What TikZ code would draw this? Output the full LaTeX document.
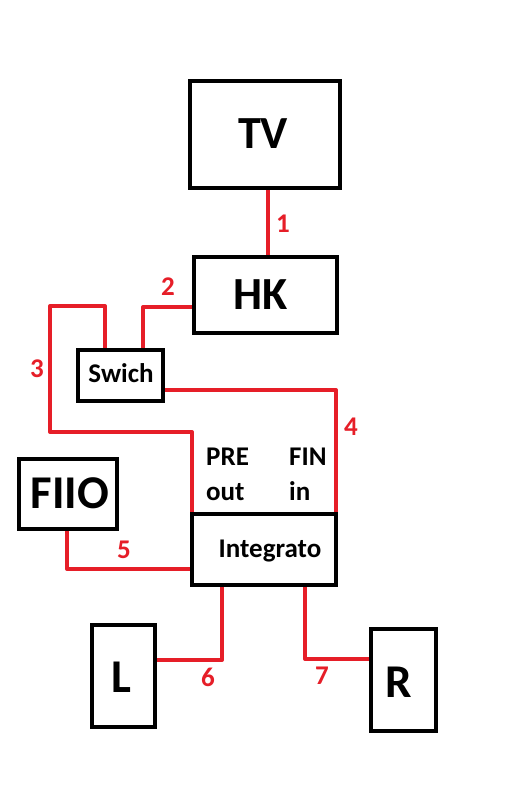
\documentclass[tikz,border=0pt]{standalone}
\usepackage{fontspec}
\setmainfont{Carlito}
\usetikzlibrary{backgrounds}
\definecolor{wirered}{RGB}{230,30,40}
\tikzset{
  box/.style={draw=black, line width=4pt, rectangle, inner sep=0pt, fill=none},
  wire/.style={draw=wirered, line width=4pt, line join=round, line cap=round},
  bigtxt/.style={inner sep=0pt, anchor=base, font=\fontsize{46}{50}\selectfont\bfseries},
  smalltxt/.style={inner sep=0pt, anchor=base, font=\fontsize{27}{32}\selectfont\bfseries},
  numtxt/.style={inner sep=0pt, anchor=base, text=wirered, font=\fontsize{27}{32}\selectfont\bfseries}
}
\begin{document}
\begin{tikzpicture}[x=1pt,y=-1pt]
\useasboundingbox (0,0) rectangle (529,800);
% boxes
\node[box, minimum width=150pt, minimum height=107pt] (tv) at (265,134.5) {};
\node[box, minimum width=143pt, minimum height=76pt] (hk) at (265.5,295) {};
\node[box, minimum width=85pt, minimum height=51pt] (sw) at (120.5,375.5) {};
\node[box, minimum width=98pt, minimum height=70pt] (fiio) at (68,494) {};
\node[box, minimum width=144pt, minimum height=71pt] (integ) at (264,549.5) {};
\node[box, minimum width=63pt, minimum height=102pt] (ell) at (123.5,676) {};
\node[box, minimum width=65pt, minimum height=102pt] (arr) at (403.5,680) {};
% box texts
\node[bigtxt] (tvt) at (263,148) {TV};
\node[bigtxt] (hkt) at (261,309) {HK};
\node[bigtxt, font=\fontsize{47}{50}\selectfont\bfseries] (fiiot) at (70,508) {FIIO};
\node[bigtxt, font=\fontsize{47}{50}\selectfont\bfseries] (ellt) at (121,692) {L};
\node[bigtxt, font=\fontsize{47}{50}\selectfont\bfseries] (arrt) at (399,697) {R};
\node[smalltxt] (swt) at (121,382) {Swich};
\node[smalltxt] (integt) at (270,557) {Integrato};
\node[smalltxt, anchor=base west] (pre) at (206,465) {PRE};
\node[smalltxt, anchor=base west] (out) at (206,500) {out};
\node[smalltxt, anchor=base west] (fin) at (289,465) {FIN};
\node[smalltxt, anchor=base west] (inn) at (289,500) {in};
% corner coordinates
\coordinate (c3a) at (50,306);
\coordinate (c3b) at (50,432);
% wires
\begin{scope}[on background layer]
\fill[white] (0,0) rectangle (529,800);
\draw[wire] ([xshift=3pt]tv.south) -- ([xshift=2.5pt]hk.north);
\draw[wire] ([yshift=-12pt]hk.west) -| ([xshift=22.5pt]sw.north);
\draw[wire] ([xshift=-15.5pt]sw.north) |- (c3a) -- (c3b) -| ([xshift=-72pt]integ.north);
\draw[wire] ([yshift=-14.5pt]sw.east) -| ([xshift=72pt]integ.north);
\draw[wire] ([xshift=-1pt]fiio.south) |- ([yshift=-19.5pt]integ.west);
\draw[wire] ([xshift=-42pt]integ.south) |- ([yshift=16pt]ell.east);
\draw[wire] ([xshift=41pt]integ.south) |- ([yshift=21pt]arr.west);
\end{scope}
% numbers
\node[numtxt] (n1) at (283,232) {1};
\node[numtxt] (n2) at (168,295) {2};
\node[numtxt] (n3) at (37,377) {3};
\node[numtxt] (n4) at (351,435) {4};
\node[numtxt] (n5) at (124,558) {5};
\node[numtxt] (n6) at (208,686) {6};
\node[numtxt] (n7) at (322,684) {7};
\end{tikzpicture}
\end{document}
